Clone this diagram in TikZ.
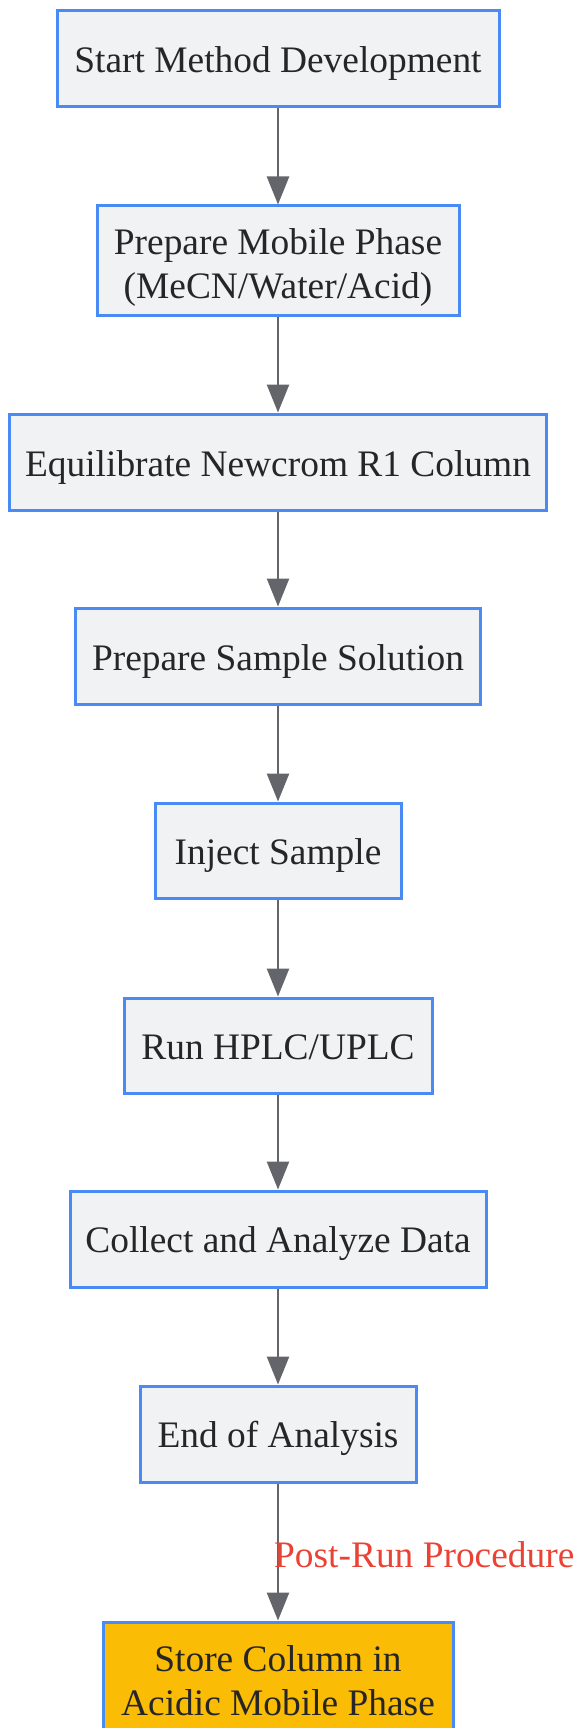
\documentclass[tikz,border=0pt]{standalone}
\usepackage{fontspec}
\setmainfont{Liberation Serif}
\usetikzlibrary{arrows.meta}
\definecolor{boxfill}{HTML}{F1F2F4}
\definecolor{boxline}{HTML}{4A8AF4}
\definecolor{arrowc}{HTML}{63656A}
\definecolor{storefill}{HTML}{FBBC05}
\definecolor{labelred}{HTML}{EA4335}
\newcommand{\boxstrut}{\rule[-8pt]{0pt}{44pt}}
\newcommand{\twolines}[3]{\begin{tabular}{@{}c@{}}\rule{0pt}{#1}#2\\#3\end{tabular}}
\tikzset{
  stepbox/.style={draw=boxline, line width=3pt, fill=boxfill, text=black!85,
    font=\fontsize{37.4}{44}\selectfont, inner sep=0pt},
  onebox/.style={stepbox, execute at begin node=\boxstrut},
  storebox/.style={stepbox, fill=storefill},
  flow/.style={draw=arrowc, line width=2.6pt,
    -{Triangle[length=28pt,width=22pt]}},
  edgelabel/.style={text=labelred, font=\fontsize{37.4}{44}\selectfont, inner sep=0pt}
}
\begin{document}
\begin{tikzpicture}[x=1pt,y=-1pt]
\useasboundingbox (0,0) rectangle (577,1728);
\node[onebox, minimum width=442pt, minimum height=96pt] (b1) at (278,59) {Start Method Development};
\node[stepbox, minimum width=362pt, minimum height=109pt] (b2) at (278,260.5) {\twolines{45pt}{Prepare Mobile Phase}{(MeCN/Water/Acid)}};
\node[onebox, minimum width=537pt, minimum height=96pt] (b3) at (278,462) {Equilibrate Newcrom R1 Column};
\node[onebox, minimum width=405pt, minimum height=96pt] (b4) at (278,656) {Prepare Sample Solution};
\node[onebox, minimum width=246pt, minimum height=95pt] (b5) at (278,850.5) {Inject Sample};
\node[onebox, minimum width=308pt, minimum height=95pt] (b6) at (278,1045.5) {Run HPLC/UPLC};
\node[onebox, minimum width=416pt, minimum height=96pt] (b7) at (278,1239) {Collect and Analyze Data};
\node[onebox, minimum width=276pt, minimum height=96pt] (b8) at (278,1434) {End of Analysis};
\node[storebox, minimum width=350pt, minimum height=109pt] (b9) at (278,1676.5) {\twolines{46.5pt}{Store Column in}{Acidic Mobile Phase}};
\draw[flow] (b1) -- (b2);
\draw[flow] (b2) -- (b3);
\draw[flow] (b3) -- (b4);
\draw[flow] (b4) -- (b5);
\draw[flow] (b5) -- (b6);
\draw[flow] (b6) -- (b7);
\draw[flow] (b7) -- (b8);
\draw[flow] (b8) -- (b9);
\node[edgelabel, anchor=west] (lbl) at (274,1555) {Post-Run Procedure};
\end{tikzpicture}
\end{document}
